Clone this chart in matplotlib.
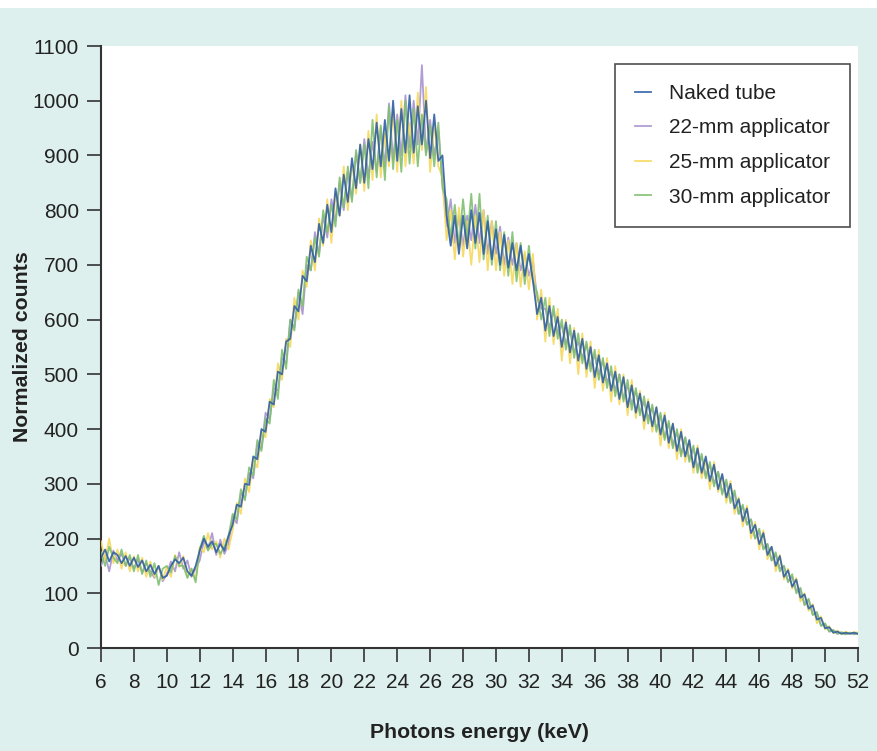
import matplotlib
matplotlib.use("Agg")
import matplotlib.pyplot as plt
import numpy as np

# photon energy grid (keV), 0.25 keV steps from 6 to 52
energy = np.arange(6, 52.001, 0.25)

naked_tube = [
    165, 180, 158, 175, 170, 155, 168, 150, 165, 148, 160, 140, 152, 135, 150, 128,
    132, 150, 162, 155, 165, 140, 132, 150, 178, 200, 185, 195, 175, 190, 178, 205,
    225, 262, 258, 300, 298, 350, 345, 400, 395, 450, 445, 505, 500, 560, 565, 625,
    615, 680, 670, 735, 705, 775, 740, 810, 760, 840, 790, 865, 815, 895, 840, 920,
    850, 930, 875, 960, 880, 965, 890, 1000, 890, 985, 905, 1010, 905, 990, 920, 1000,
    895, 975, 890, 900, 790, 735, 790, 720, 790, 730, 800, 740, 795, 720, 780, 710,
    765, 700, 755, 695, 740, 690, 735, 680, 720, 670, 610, 640, 580, 625, 570, 605,
    550, 595, 540, 580, 525, 565, 510, 550, 495, 535, 485, 520, 470, 505, 455, 495,
    440, 480, 430, 465, 415, 450, 405, 440, 390, 425, 375, 410, 360, 395, 350, 380,
    330, 365, 320, 350, 305, 335, 290, 318, 275, 300, 255, 272, 232, 255, 210, 225,
    190, 210, 170, 185, 150, 168, 130, 142, 112, 125, 92, 98, 72, 78, 52, 55,
    36, 38, 28, 30, 26, 28, 26, 28, 26,
]

app_22mm = [
    150, 170, 140, 178, 160, 172, 150, 165, 145, 162, 138, 155, 140, 128, 150, 122,
    135, 158, 140, 175, 145, 160, 130, 145, 160, 195, 180, 210, 170, 198, 172, 190,
    240, 228, 282, 275, 320, 310, 372, 365, 430, 418, 475, 470, 530, 520, 600, 585,
    650, 610, 700, 690, 760, 720, 790, 750, 820, 780, 850, 800, 870, 820, 905, 850,
    930, 860, 925, 870, 950, 880, 995, 890, 975, 900, 1010, 915, 1000, 920, 1065, 905,
    965, 900, 945, 850, 770, 820, 740, 790, 735, 790, 745, 810, 740, 800, 720, 780,
    720, 770, 700, 750, 700, 740, 690, 720, 680, 705, 640, 620, 620, 585, 615, 575,
    590, 555, 580, 540, 560, 530, 555, 515, 535, 500, 525, 485, 505, 470, 500, 455,
    480, 445, 470, 430, 450, 420, 440, 400, 425, 385, 410, 370, 395, 355, 385, 345,
    365, 330, 350, 315, 335, 300, 322, 285, 302, 270, 282, 245, 258, 228, 235, 200,
    212, 182, 190, 160, 170, 145, 150, 122, 130, 105, 108, 80, 88, 62, 64, 42,
    44, 30, 32, 26, 28, 25, 28, 25, 27,
]

app_25mm = [
    195, 160, 200, 155, 180, 145, 175, 140, 168, 140, 165, 130, 158, 130, 150, 125,
    148, 130, 170, 148, 168, 130, 145, 125, 185, 175, 210, 180, 195, 165, 200, 180,
    215, 265, 245, 310, 285, 345, 330, 395, 385, 455, 440, 520, 490, 565, 550, 640,
    600, 690, 660, 745, 690, 785, 735, 820, 740, 830, 790, 880, 800, 885, 830, 920,
    835, 945, 855, 975, 860, 940, 880, 985, 870, 1000, 880, 960, 885, 1015, 910, 1025,
    870, 960, 880, 860, 745, 800, 710, 805, 715, 780, 700, 790, 705, 800, 690, 780,
    690, 760, 680, 745, 665, 740, 660, 725, 655, 720, 600, 655, 560, 640, 555, 620,
    525, 600, 520, 585, 500, 575, 495, 560, 475, 545, 470, 530, 450, 515, 445, 500,
    425, 490, 420, 470, 400, 455, 395, 440, 370, 430, 365, 410, 345, 400, 340, 378,
    320, 370, 310, 345, 290, 340, 285, 315, 265, 305, 245, 275, 222, 260, 200, 230,
    180, 215, 162, 185, 140, 170, 125, 145, 108, 128, 85, 100, 68, 80, 45, 58,
    34, 40, 27, 32, 25, 30, 26, 29, 28,
]

app_30mm = [
    175, 150, 185, 165, 155, 180, 150, 170, 140, 170, 135, 160, 130, 155, 115, 145,
    150, 138, 168, 150, 150, 128, 145, 120, 180, 205, 178, 190, 190, 172, 185, 205,
    245, 235, 290, 270, 330, 315, 380, 360, 420, 410, 490, 455, 545, 510, 600, 580,
    655, 625, 715, 690, 750, 715, 800, 760, 810, 770, 860, 805, 880, 815, 910, 850,
    920, 840, 965, 860, 955, 855, 990, 875, 965, 870, 1000, 885, 985, 880, 975, 900,
    955, 880, 960, 840, 820, 750, 810, 735, 820, 745, 830, 730, 830, 710, 790, 700,
    780, 690, 760, 680, 760, 670, 740, 665, 735, 670, 650, 600, 640, 570, 625, 565,
    600, 545, 590, 530, 575, 520, 560, 505, 545, 490, 530, 475, 515, 460, 500, 450,
    490, 435, 475, 425, 460, 410, 445, 395, 430, 380, 415, 365, 400, 350, 385, 340,
    370, 320, 355, 310, 340, 295, 322, 280, 308, 265, 288, 245, 262, 225, 235, 200,
    218, 180, 190, 160, 175, 140, 150, 120, 135, 100, 110, 78, 90, 60, 66, 40,
    45, 30, 33, 26, 29, 25, 28, 26, 26,
]

labels = ['Naked tube', '22-mm applicator', '25-mm applicator', '30-mm applicator']
colors = ['#2f5fa5', '#a893cf', '#f6d85e', '#80c070']
xticks = list(range(6, 53, 2))
yticks = list(range(0, 1101, 100))

plt.rcParams['font.family'] = ['Liberation Sans', 'DejaVu Sans']

fig = plt.figure(figsize=(8.78, 7.51), dpi=100, facecolor='white')
# light cyan panel behind the chart (thin white strip on top)
panel = plt.Rectangle((0, 0), 1, 1 - 8 / 751, transform=fig.transFigure,
                      facecolor='#ddf0ee', edgecolor='none', zorder=-10)
fig.add_artist(panel)

ax = fig.add_axes([101 / 878, 1 - 648 / 751, 757 / 878, 602 / 751])
ax.set_zorder(1)
ax.set_facecolor('white')

series = [naked_tube, app_22mm, app_25mm, app_30mm]
zorders = [6, 3, 4, 5]
handles = []
for vals, lab, col, z in zip(series, labels, colors, zorders):
    h, = ax.plot(energy, vals, color=col, lw=1.3, alpha=0.9, label=lab, zorder=z)
    handles.append(h)

ax.set_xlim(6, 52)
ax.set_ylim(0, 1100)
ax.set_xticks(xticks)
ax.set_yticks(yticks)
ax.tick_params(axis='both', direction='out', length=10, width=1.2, color='#333333',
               labelsize=15, labelcolor='#222222')
ax.tick_params(axis='x', pad=8)
ax.tick_params(axis='y', pad=6)

for side in ['top', 'right']:
    ax.spines[side].set_visible(False)
for side in ['left', 'bottom']:
    ax.spines[side].set_color('#333333')
    ax.spines[side].set_linewidth(1.5)

ax.set_xlabel('Photons energy (keV)', fontsize=15.3, fontweight='bold', color='#222222',
              labelpad=22)
ax.set_ylabel('Normalized counts', fontsize=15.3, fontweight='bold', color='#222222',
              labelpad=0)

leg = ax.legend(handles=handles, loc='upper right', bbox_to_anchor=(0.99, 0.97),
                fontsize=15, frameon=True, fancybox=False, handlelength=0.75,
                handletextpad=0.9, labelspacing=0.75, borderpad=0.95, borderaxespad=0)
leg.get_frame().set_edgecolor('#222222')
leg.get_frame().set_linewidth(1.2)
for t in leg.get_texts():
    t.set_color('#222222')

fig.savefig('out.png', dpi=100, facecolor=fig.get_facecolor())
